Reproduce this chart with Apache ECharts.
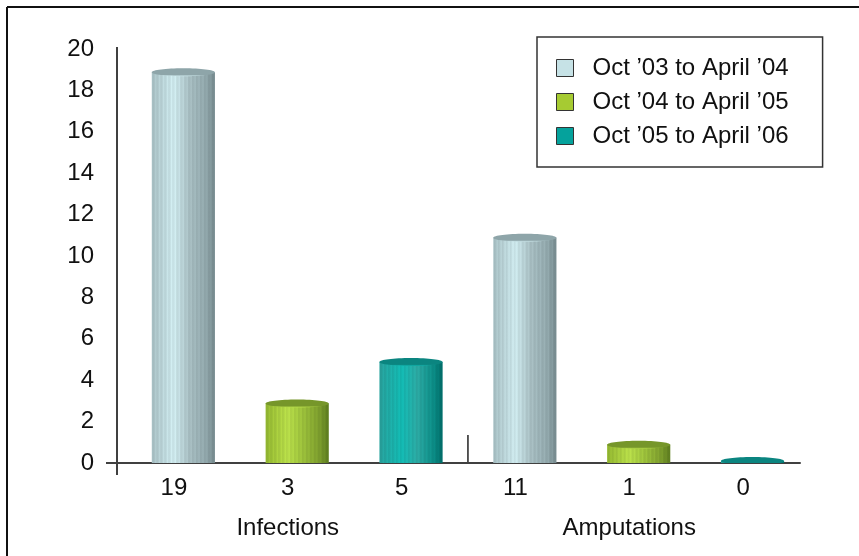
<!DOCTYPE html>
<html>
<head>
<meta charset="utf-8">
<script src="https://cdn.jsdelivr.net/npm/echarts@6/dist/echarts.min.js"></script>
<style>
  html, body { margin: 0; padding: 0; background: #fff; }
  #chart { width: 859px; height: 556px; }
</style>
</head>
<body>
<div id="chart"></div>
<script>
// Wound outcomes, counted per winter season
const groups = ['Infections', 'Amputations'];
const seriesNames = ['Oct \u201903 to April \u201904', 'Oct \u201904 to April \u201905', 'Oct \u201905 to April \u201906'];
const season1 = [19, 11];
const season2 = [3, 1];
const season3 = [5, 0];
const yTicks = [0, 2, 4, 6, 8, 10, 12, 14, 16, 18, 20];

const seasons = [season1, season2, season3];

// one slot per bar: group-major order, label is the bar's value
const slotLabels = [];
groups.forEach((g, gi) => seasons.forEach(s => slotLabels.push(String(s[gi]))));

const FONT = '"Liberation Sans", Arial, Helvetica, sans-serif';
const FS = 24;

// cylinder shading: left, highlight, mid, dark, right-edge + lid colour
const palettes = [
  { legend: '#c6e2e6', stops: ['#a3bbbf', '#cae5e9', '#a3b9bd', '#8fa5a9', '#74888c'], lid: '#8ea5a9' },
  { legend: '#a6cb32', stops: ['#8fb22f', '#b4d948', '#97bb39', '#7a9a2c', '#5b7a1e'], lid: '#76962a' },
  { legend: '#05a29c', stops: ['#279c97', '#12b6af', '#2ba59f', '#0b8a84', '#006a66'], lid: '#0b8580' }
];

function hex2rgb(h) {
  return [parseInt(h.slice(1, 3), 16), parseInt(h.slice(3, 5), 16), parseInt(h.slice(5, 7), 16)];
}
function mix(a, b, t) {
  const A = hex2rgb(a), B = hex2rgb(b);
  return A.map((v, i) => v + (B[i] - v) * t);
}
function rgb(c, k) {
  return 'rgb(' + c.map(v => Math.max(0, Math.min(255, Math.round(v * k)))).join(',') + ')';
}
// horizontal gradient with fine vertical ribbing
function ribbedGradient(p) {
  const anchors = [0, 0.35, 0.6, 0.85, 1];
  const stops = [];
  const n = 48;
  for (let i = 0; i <= n; i++) {
    const t = i / n;
    let j = 0;
    while (j < anchors.length - 2 && t > anchors[j + 1]) j++;
    const local = (t - anchors[j]) / (anchors[j + 1] - anchors[j]);
    const base = mix(p.stops[j], p.stops[j + 1], Math.min(1, Math.max(0, local)));
    const rib = (i % 3 === 0) ? 1.06 : (i % 3 === 1 ? 0.98 : 1.0);
    stops.push({ offset: t, color: rgb(base, rib) });
  }
  return new echarts.graphic.LinearGradient(0, 0, 1, 0, stops);
}

// cylinders sit a little right of and below their slot, as drawn in perspective
const DEPTH_DX = 0.083;   // fraction of slot width
const DEPTH_DY = 2.5;     // px
const LID_RY = 4;

function makeSeries(si) {
  const p = palettes[si];
  const fill = ribbedGradient(p);
  const data = seasons[si].map((v, gi) => [gi * seasons.length + si, v]);
  return {
    name: seriesNames[si],
    type: 'custom',
    clip: true,
    itemStyle: { color: p.legend },
    data: data,
    encode: { x: 0, y: 1 },
    renderItem: function (params, api) {
      const cat = api.value(0);
      const val = api.value(1);
      const top = api.coord([cat, val]);
      const base = api.coord([cat, 0]);
      const band = api.size([1, 0])[0];
      const w = band * 0.555;
      const rx = w / 2;
      const cx = top[0] + band * DEPTH_DX;
      // keep the lid of an empty cylinder showing above the floor
      const cy = Math.min(top[1] + DEPTH_DY, base[1] - 2);
      return {
        type: 'group',
        children: [
          {
            type: 'rect',
            shape: { x: cx - rx, y: cy, width: w, height: Math.max(0, base[1] - cy) },
            style: { fill: fill }
          },
          {
            type: 'ellipse',
            shape: { cx: cx, cy: cy, rx: rx, ry: LID_RY },
            style: {
              fill: new echarts.graphic.LinearGradient(0, 0, 0, 1, [
                { offset: 0, color: p.lid },
                { offset: 0.8, color: p.lid },
                { offset: 1, color: rgb(hex2rgb(p.stops[1]), 1.0) }
              ])
            }
          }
        ]
      };
    }
  };
}

const chart = echarts.init(document.getElementById('chart'), null, { renderer: 'canvas' });

const option = {
  backgroundColor: '#ffffff',
  animation: false,
  textStyle: { fontFamily: FONT },
  grid: { left: 117, right: 59, top: 49, bottom: 93 },
  legend: {
    orient: 'vertical',
    left: 537,
    top: 37,
    padding: [19, 34, 19, 19],
    borderColor: '#333',
    borderWidth: 1.5,
    itemWidth: 17,
    itemHeight: 17,
    itemGap: 10,
    icon: 'rect',
    selectedMode: false,
    itemStyle: { borderColor: '#333', borderWidth: 1 },
    textStyle: { fontSize: FS, color: '#111', fontFamily: FONT, lineHeight: 24, padding: [0, 0, 0, 14] },
    data: seriesNames
  },
  xAxis: [
    {
      type: 'category',
      data: slotLabels,
      axisLine: { show: true, lineStyle: { color: '#404040', width: 2 } },
      axisTick: { show: false },
      axisLabel: { fontSize: FS, color: '#111', fontFamily: FONT, margin: 13 }
    },
    {
      type: 'category',
      data: groups,
      position: 'bottom',
      axisLine: { show: false },
      axisTick: { show: false },
      axisLabel: { fontSize: FS, color: '#111', fontFamily: FONT, margin: 53 }
    }
  ],
  yAxis: {
    type: 'value',
    min: yTicks[0],
    max: yTicks[yTicks.length - 1],
    interval: yTicks[1] - yTicks[0],
    axisLine: { show: true, lineStyle: { color: '#404040', width: 2 } },
    axisTick: { show: false },
    splitLine: { show: false },
    axisLabel: { fontSize: FS, color: '#111', fontFamily: FONT, margin: 23, padding: [3, 0, 0, 0] }
  },
  series: [makeSeries(0), makeSeries(1), makeSeries(2)]
};

chart.setOption(option);

// frame, axis stubs and the group separator
const origin = chart.convertToPixel({ xAxisIndex: 0, yAxisIndex: 0 }, [0, 0]);
const slotW = chart.getModel().getComponent('xAxis', 0).axis.getBandWidth();
const axisX = origin[0] - slotW / 2;
const axisY = origin[1];
const topY = chart.convertToPixel({ yAxisIndex: 0 }, yTicks[yTicks.length - 1]);
const sepX = axisX + slotW * (seasons.length + DEPTH_DX);
const lineStyle = { stroke: '#404040', lineWidth: 2 };

chart.setOption({
  graphic: [
    { type: 'line', shape: { x1: 7, y1: 7, x2: 859, y2: 7 }, style: { stroke: '#111', lineWidth: 2 } },
    { type: 'line', shape: { x1: 7, y1: 7, x2: 7, y2: 556 }, style: { stroke: '#111', lineWidth: 2 } },
    { type: 'line', shape: { x1: axisX - 11, y1: axisY, x2: axisX, y2: axisY }, style: lineStyle },
    { type: 'line', shape: { x1: axisX, y1: axisY, x2: axisX, y2: axisY + 12 }, style: lineStyle },
    { type: 'line', shape: { x1: axisX, y1: topY - 2, x2: axisX, y2: topY }, style: lineStyle },
    { type: 'line', shape: { x1: sepX, y1: axisY - 28, x2: sepX, y2: axisY }, style: { stroke: '#222', lineWidth: 1.5 } }
  ]
});
</script>
</body>
</html>
